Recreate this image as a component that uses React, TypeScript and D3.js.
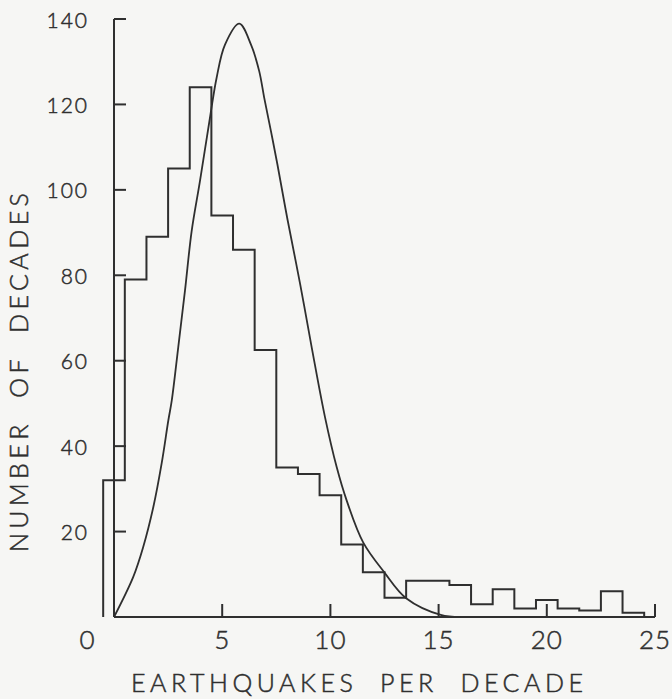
import * as d3 from "d3";

// earthquakes per decade (bins centred on integers) and number of decades
const quakes = [0, 1, 2, 3, 4, 5, 6, 7, 8, 9, 10, 11, 12, 13, 14, 15, 16, 17, 18, 19, 20, 21, 22, 23, 24];
const decades = [32, 79, 89, 105, 124, 94, 86, 62.5, 35, 33.5, 28.5, 17, 10.5, 4.5, 8.5, 8.5, 7.5, 3, 6.5, 2, 4, 2, 1.5, 6, 1];

// fitted curve
const curveX = [0, 0.89, 1.35, 1.82, 2.2, 2.51, 2.67, 2.97, 3.28, 3.59, 3.97, 4.46, 4.74, 5.13, 5.79, 6.33, 6.71, 6.94, 7.25, 7.55, 8.02, 8.6, 9.14, 9.75, 10.29, 10.75, 11.52, 12.5, 13.5, 15.1, 16];
const curveY = [0, 9.4, 16.4, 25.8, 35.9, 46, 50.7, 63.2, 76.4, 90.4, 102, 117.7, 126.2, 134, 138.9, 134, 127.8, 121.6, 113.8, 106, 93, 78, 63, 46.8, 35.1, 27.3, 17.4, 10.4, 4.4, 0.5, 0];

const xTicks = [5, 10, 15, 20, 25];
const yTicks = [20, 40, 60, 80, 100, 120, 140];

const width = 672;
const height = 699;
const ink = "#2f2f2f";
const font = "Lato, 'DejaVu Sans', sans-serif";

const App = () => {
  const x = d3.scaleLinear().domain([0, 25]).range([114, 655]);
  const y = d3.scaleLinear().domain([0, 140]).range([617, 19]);

  const steps: [number, number][] = [[quakes[0] - 0.5, 0]];
  quakes.forEach((q, i) => {
    steps.push([q - 0.5, decades[i]]);
    steps.push([q + 0.5, decades[i]]);
  });
  steps.push([quakes[quakes.length - 1] + 0.5, 0]);

  const line = d3
    .line<[number, number]>()
    .x((d) => x(d[0]))
    .y((d) => y(d[1]));

  const smooth = d3
    .line<number>()
    .x((d) => x(d))
    .y((_, i) => y(curveY[i]))
    .curve(d3.curveCatmullRom.alpha(0.5));

  return (
    <svg
      width={width}
      height={height}
      style={{ position: "fixed", top: 0, left: 0, background: "#f6f6f4" }}
    >
      <g fill="none" stroke={ink} strokeWidth={2}>
        {/* axes */}
        <line x1={x(0)} x2={x(0)} y1={y(0)} y2={y(140)} />
        <line x1={x(0)} x2={x(25)} y1={y(0)} y2={y(0)} />
        {yTicks.map((t) => (
          <line key={t} x1={x(0)} x2={x(0) + 12} y1={y(t)} y2={y(t)} />
        ))}
        {xTicks.map((t) => (
          <line key={t} x1={x(t)} x2={x(t)} y1={y(0)} y2={y(0) - 13} />
        ))}
        <path d={line(steps) ?? ""} />
        <path d={smooth(curveX) ?? ""} strokeWidth={1.8} />
      </g>

      <g fill={ink} stroke={ink} strokeWidth={0.5} fontFamily={font} fontWeight={300}>
        {yTicks.map((t) => (
          <text key={t} x={89} y={y(t) + 8.5} textAnchor="end" fontSize={21} letterSpacing={2}>
            {t}
          </text>
        ))}
        <text x={x(0) - 27} y={649} textAnchor="middle" fontSize={26}>
          0
        </text>
        {xTicks.map((t) => (
          <text key={t} x={x(t)} y={649} textAnchor="middle" fontSize={26} letterSpacing={1}>
            {t}
          </text>
        ))}
        <text
          x={131}
          y={692}
          fontSize={25}
          textLength={452}
          lengthAdjust="spacing"
          style={{ whiteSpace: "pre" }}
        >
          {"EARTHQUAKES  PER  DECADE"}
        </text>
        <text
          transform="translate(28,552) rotate(-90)"
          fontSize={25}
          textLength={359}
          lengthAdjust="spacing"
          style={{ whiteSpace: "pre" }}
        >
          {"NUMBER  OF  DECADES"}
        </text>
      </g>
    </svg>
  );
};

export default App;
